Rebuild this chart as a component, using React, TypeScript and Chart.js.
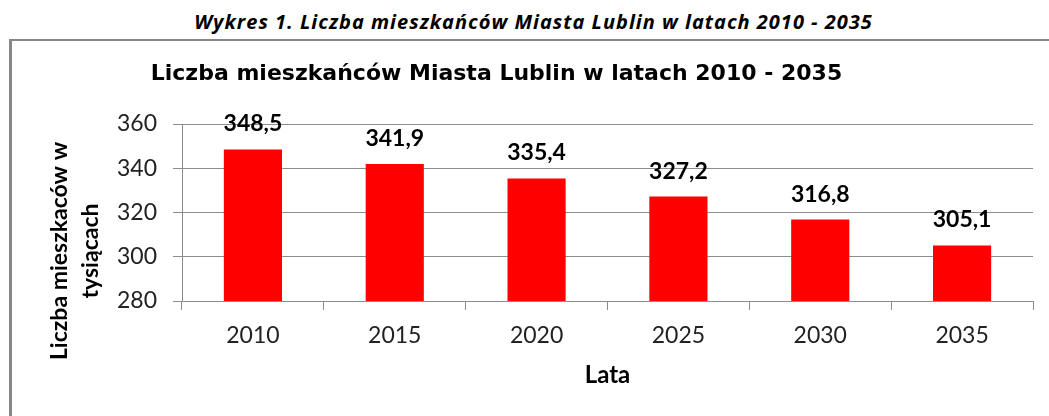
import React, { useEffect, useRef } from "react";
import { Chart, registerables } from "chart.js";

Chart.register(...registerables);

// ---- data ----
const categories = ["2010", "2015", "2020", "2025", "2030", "2035"];
const population = [348.5, 341.9, 335.4, 327.2, 316.8, 305.1];
const yTickValues = [280, 300, 320, 340, 360];
const captionText = "Wykres 1. Liczba mieszkańców Miasta Lublin w latach 2010 - 2035";
const chartTitle = "Liczba mieszkańców Miasta Lublin w latach 2010 - 2035";
const yTitleLines = ["Liczba mieszkaców w", "tysiącach"];
const xTitle = "Lata";

const GRID = "#8c8c8c";
const SHIFT = 40; // canvas starts 40px left of the page so the title centres like the original
const fmt = (v: number) => v.toFixed(1).replace(".", ",");

const barValuePlugin = {
  id: "barValues",
  afterDatasetsDraw(chart: any) {
    const ctx = chart.ctx;
    const meta = chart.getDatasetMeta(0);
    ctx.save();
    ctx.font = "bold 23px Lato";
    ctx.fillStyle = "#000";
    ctx.textAlign = "center";
    ctx.textBaseline = "alphabetic";
    meta.data.forEach((el: any, i: number) => {
      ctx.fillText(fmt(population[i]), el.x, el.y - 18);
    });
    ctx.restore();
  },
};

const yTitlePlugin = {
  id: "yTitle",
  afterDraw(chart: any) {
    const ctx = chart.ctx;
    ctx.save();
    ctx.translate(67 + SHIFT, 251);
    ctx.rotate(-Math.PI / 2);
    ctx.font = "bold 23px Lato";
    ctx.fillStyle = "#000";
    ctx.textAlign = "center";
    ctx.textBaseline = "alphabetic";
    yTitleLines.forEach((line, i) => ctx.fillText(line, 0, i * 31));
    ctx.restore();
  },
};

export default function App() {
  const ref = useRef<HTMLCanvasElement | null>(null);

  useEffect(() => {
    if (!ref.current) return;
    const chart = new Chart(ref.current, {
      type: "bar",
      data: {
        labels: categories,
        datasets: [
          {
            data: population,
            backgroundColor: "#ff0000",
            borderWidth: 0,
            barPercentage: 0.41,
            categoryPercentage: 1,
          },
        ],
      },
      options: {
        responsive: false,
        animation: false,
        events: [],
        layout: { padding: { left: 0, right: 16, top: 0, bottom: 0 } },
        plugins: {
          legend: { display: false },
          tooltip: { enabled: false },
          title: {
            display: true,
            text: chartTitle,
            align: "center",
            color: "#000",
            font: { family: "'DejaVu Sans', Arial, sans-serif", size: 22, weight: "bold", lineHeight: 1.2 },
            padding: { top: 60.8, bottom: 36.8 },
          },
        },
        scales: {
          x: {
            offset: true,
            grid: {
              offset: true,
              drawOnChartArea: false,
              drawTicks: true,
              tickLength: 9,
              color: GRID,
            },
            border: { color: GRID, width: 1 },
            ticks: {
              color: "#222",
              font: { family: "Lato", size: 23 },
              padding: 12,
              maxRotation: 0,
            },
            title: {
              display: true,
              text: xTitle,
              color: "#000",
              font: { family: "Lato", size: 24, weight: "bold" },
              padding: { top: 0, bottom: 26 },
            },
            afterFit(s: any) {
              s.height = 115;
              s.paddingLeft = 0;
              s.paddingRight = 0;
            },
          },
          y: {
            min: 280,
            max: 360,
            afterBuildTicks(s: any) {
              s.ticks = yTickValues.map((v) => ({ value: v }));
            },
            grid: { color: GRID, tickLength: 9, drawTicks: true },
            border: { color: GRID, width: 1 },
            ticks: {
              color: "#222",
              font: { family: "Lato", size: 23 },
              padding: 16,
            },
            afterFit(s: any) {
              s.width = 182 + SHIFT;
              s.paddingTop = 0;
              s.paddingBottom = 0;
            },
          },
        },
      },
      plugins: [barValuePlugin, yTitlePlugin],
    } as any);
    return () => chart.destroy();
  }, []);

  return (
    <div
      style={{
        position: "fixed",
        left: 0,
        top: 0,
        width: 1049,
        height: 416,
        background: "#fff",
        overflow: "hidden",
      }}
    >
      <div
        style={{
          position: "absolute",
          left: 9,
          top: 8,
          width: 1049,
          textAlign: "center",
          fontFamily: "'Open Sans'",
          fontWeight: "bold",
          fontStyle: "italic",
          fontSize: 20,
          letterSpacing: "1px",
          lineHeight: "28px",
          color: "#000",
          whiteSpace: "nowrap",
        }}
      >
        {captionText}
      </div>
      <div
        style={{
          position: "absolute",
          left: 9,
          top: 39,
          width: 1200,
          height: 600,
          borderTop: "2px solid #878787",
          borderLeft: "3px solid #878787",
          boxSizing: "border-box",
        }}
      />
      <canvas
        ref={ref}
        width={1049 + SHIFT}
        height={416}
        style={{ position: "absolute", left: -SHIFT, top: 0, width: 1049 + SHIFT, height: 416 }}
      />
    </div>
  );
}
